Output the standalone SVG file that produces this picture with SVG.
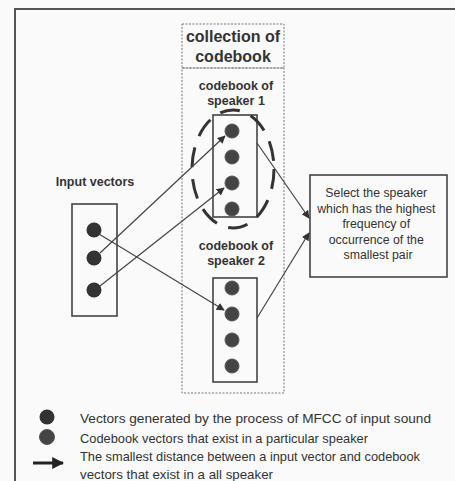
<svg xmlns="http://www.w3.org/2000/svg" width="455" height="481" viewBox="0 0 455 481">
<defs>
<style>
.t{font-family:"Liberation Sans",Arial,sans-serif;fill:#333}
.b{font-weight:bold}
.box{fill:none;stroke:#444;stroke-width:1.6}
.dash{fill:none;stroke:#777;stroke-width:1;stroke-dasharray:2,1.5}
.in{fill:#333}
.cb{fill:#444;stroke:#555;stroke-width:1}
.con{fill:none;stroke:#444;stroke-width:1.2}
</style>
<marker id="ah" viewBox="0 0 10 10" refX="9" refY="5" markerWidth="8" markerHeight="8" markerUnits="userSpaceOnUse" orient="auto"><path d="M0,0 L10,5 L0,10 z" fill="#333"/></marker>
<marker id="ahL" viewBox="0 0 10 10" refX="9" refY="5" markerWidth="12" markerHeight="12" markerUnits="userSpaceOnUse" orient="auto"><path d="M0,0 L10,5 L0,10 z" fill="#222"/></marker>
</defs>
<rect width="455" height="481" fill="#fafafa"/>
<path d="M15,481 V9 H455" fill="none" stroke="#555" stroke-width="2"/>

<g id="collection">
<rect class="dash" x="182" y="24" width="102" height="44"/>
<rect class="dash" x="182" y="68" width="102" height="325"/>
<text class="t b" x="233" y="42" font-size="16" text-anchor="middle">collection of</text>
<text class="t b" x="233" y="62" font-size="16" text-anchor="middle">codebook</text>
</g>

<g id="speaker1">
<text class="t b" x="236" y="90" font-size="12.5" text-anchor="middle">codebook of</text>
<text class="t b" x="236" y="105" font-size="12.5" text-anchor="middle">speaker 1</text>
<rect class="box" x="213" y="115" width="44" height="102"/>
<circle class="cb" cx="232" cy="131" r="7"/>
<circle class="cb" cx="232" cy="157" r="7"/>
<circle class="cb" cx="232" cy="183" r="7"/>
<circle class="cb" cx="232" cy="209" r="7"/>
<ellipse cx="233" cy="169" rx="41" ry="59" fill="none" stroke="#333" stroke-width="3" stroke-dasharray="20,12"/>
</g>

<g id="speaker2">
<text class="t b" x="236" y="250" font-size="12.5" text-anchor="middle">codebook of</text>
<text class="t b" x="236" y="265" font-size="12.5" text-anchor="middle">speaker 2</text>
<rect class="box" x="213" y="278" width="44" height="104"/>
<circle class="cb" cx="232" cy="288" r="7"/>
<circle class="cb" cx="232" cy="314" r="7"/>
<circle class="cb" cx="232" cy="340" r="7"/>
<circle class="cb" cx="232" cy="366" r="7"/>
</g>

<g id="input">
<text class="t b" x="95" y="186" font-size="12.5" text-anchor="middle">Input vectors</text>
<rect class="box" x="72" y="204" width="45" height="112"/>
<circle class="in" cx="94" cy="230" r="7.5"/>
<circle class="in" cx="94" cy="258" r="7.5"/>
<circle class="in" cx="94" cy="290" r="7.5"/>
</g>

<g id="select">
<rect class="box" x="310" y="175" width="137" height="102"/>
<text class="t" font-size="12.3" text-anchor="middle">
<tspan x="378" y="197">Select the speaker</tspan>
<tspan x="378" y="212.5">which has the highest</tspan>
<tspan x="378" y="228">frequency of</tspan>
<tspan x="378" y="243.5">occurrence of the</tspan>
<tspan x="378" y="259">smallest pair</tspan>
</text>
</g>

<g id="connectors">
<path class="con" d="M99,234 L224,310" marker-end="url(#ah)"/>
<path class="con" d="M100,253 L225,136" marker-end="url(#ah)"/>
<path class="con" d="M100,286 L224,188" marker-end="url(#ah)"/>
<path class="con" d="M257,143 L309,218" marker-end="url(#ah)"/>
<path class="con" d="M257,318 L309,233" marker-end="url(#ah)"/>
</g>

<g id="legend">
<circle class="in" cx="47" cy="417" r="7.5"/>
<circle class="cb" cx="47" cy="437" r="7.5"/>
<path d="M33,463 H63" stroke="#222" stroke-width="3" marker-end="url(#ahL)"/>
<text class="t" x="80" y="423" font-size="13" textLength="351" lengthAdjust="spacingAndGlyphs">Vectors generated by the process of MFCC of input sound</text>
<text class="t" x="80" y="443" font-size="13" textLength="288" lengthAdjust="spacingAndGlyphs">Codebook vectors that exist in a particular speaker</text>
<text class="t" x="80" y="461" font-size="13" textLength="340" lengthAdjust="spacingAndGlyphs">The smallest distance between a input vector and codebook</text>
<text class="t" x="80" y="479" font-size="13" textLength="193" lengthAdjust="spacingAndGlyphs">vectors that exist in a all speaker</text>
</g>
</svg>
